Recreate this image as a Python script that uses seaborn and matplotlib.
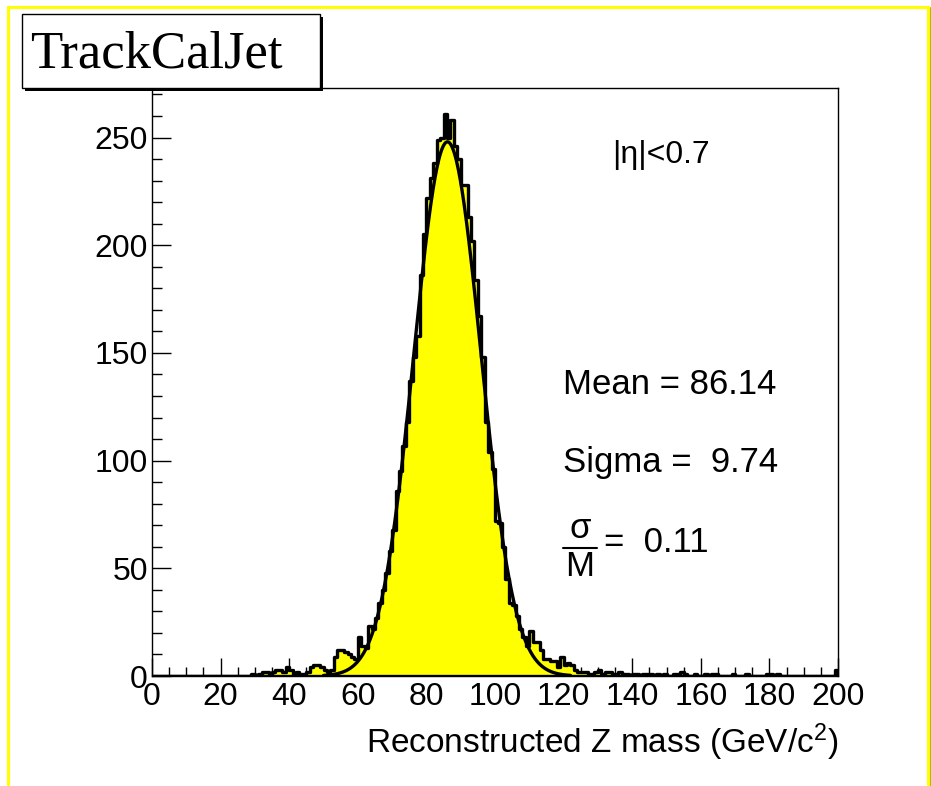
import numpy as np
import pandas as pd
import matplotlib.pyplot as plt
import seaborn as sns
from matplotlib.patches import Rectangle
from matplotlib.lines import Line2D
from matplotlib.ticker import MultipleLocator

# histogram contents, 1 GeV bins from 0 to 200 GeV
counts_0_27 = [0] * 28
counts_28_59 = [0, 1, 0, 1, 2, 2, 1, 2, 3, 3,
                2, 4, 3, 1, 2, 1, 1, 2, 4, 5,
                5, 4, 3, 2, 3, 9, 12, 12, 11, 10,
                9, 8]
counts_60_99 = [18, 14, 13, 23, 22, 27, 34, 40, 48, 58,
                68, 86, 95, 107, 118, 137, 148, 158, 186, 205,
                222, 231, 238, 249, 250, 261, 250, 258, 246, 240,
                228, 228, 213, 202, 184, 167, 148, 118, 104, 96]
counts_100_139 = [72, 71, 60, 45, 34, 33, 28, 22, 18, 14,
                  21, 16, 16, 12, 8, 8, 7, 7, 4, 9,
                  5, 6, 5, 3, 2, 2, 2, 1, 1, 2,
                  3, 1, 2, 2, 1, 1, 2, 1, 1, 0]
counts_140_199 = [1, 1, 0, 1, 1, 1, 0, 1, 0, 1,
                  0, 0, 1, 1, 2, 1, 0, 0, 1, 0,
                  0, 1, 0, 1, 1, 0, 0, 0, 0, 1,
                  0, 0, 0, 1, 0, 0, 0, 0, 0, 1,
                  1, 0, 1, 0, 0, 0, 0, 0, 0, 0,
                  0, 0, 0, 0, 0, 0, 0, 0, 0, 3]
counts = counts_0_27 + counts_28_59 + counts_60_99 + counts_100_139 + counts_140_199

# gaussian fit result
fit_amp = 248
fit_mean = 86.14
fit_sigma = 9.74
fit_lo, fit_hi = 50, 122

W, H = 931, 786


def fx(px):
    return px / W


def fy(py):
    return 1 - py / H


sns.set_theme(style="white")
plt.rcParams['font.family'] = ['Liberation Sans', 'DejaVu Sans']
plt.rcParams['mathtext.fontset'] = 'custom'
plt.rcParams['mathtext.rm'] = 'Liberation Sans'
plt.rcParams['mathtext.it'] = 'Liberation Sans'
plt.rcParams['text.color'] = 'black'
plt.rcParams['axes.labelcolor'] = 'black'
plt.rcParams['xtick.color'] = 'black'
plt.rcParams['ytick.color'] = 'black'

centers = np.arange(200) + 0.5
df = pd.DataFrame({'mass': centers, 'n': counts})

fig = plt.figure(figsize=(W / 100, H / 100), dpi=100)
ax = fig.add_axes([fx(152), 1 - 676 / H, (838 - 152) / W, (676 - 88) / H])

sns.histplot(data=df, x='mass', weights='n', binwidth=1, binrange=(0, 200), element='step', fill=True,
             facecolor='#ffff00', edgecolor='black', linewidth=2.4, alpha=1, ax=ax)

xf = np.linspace(fit_lo, fit_hi, 400)
yf = fit_amp * np.exp(-0.5 * ((xf - fit_mean) / fit_sigma) ** 2)
ax.plot(xf, yf, color='black', lw=2.4)

ax.set_xlim(0, 200)
ax.set_ylim(0, 273)
ax.set_ylabel('')
ax.set_xlabel('Reconstructed Z mass (GeV/c$^{2}$)', loc='right', fontsize=24, labelpad=7, color='black')

ax.xaxis.set_major_locator(MultipleLocator(20))
ax.xaxis.set_minor_locator(MultipleLocator(5))
ax.yaxis.set_major_locator(MultipleLocator(50))
ax.yaxis.set_minor_locator(MultipleLocator(10))
ax.tick_params(axis='x', which='major', direction='in', length=13, width=1, labelsize=23, pad=4,
               colors='black')
ax.tick_params(axis='x', which='minor', direction='in', length=6.5, width=1, colors='black')
ax.tick_params(axis='y', which='major', direction='in', length=14, width=1, labelsize=23, pad=3,
               colors='black')
ax.tick_params(axis='y', which='minor', direction='in', length=7, width=1, colors='black')
ax.tick_params(which='both', bottom=True, left=True, top=False, right=False)
for s in ax.spines.values():
    s.set_color('black')
    s.set_linewidth(1)

# texts inside the frame
fig.text(fx(612), fy(155), '|η|<0.7', fontsize=23, va='center', ha='left', color='black')
fig.text(fx(563), fy(385), 'Mean = 86.14', fontsize=25, va='center', ha='left', color='black')
fig.text(fx(563), fy(463), 'Sigma =  9.74', fontsize=25, va='center', ha='left', color='black')
fig.text(fx(580), fy(529), 'σ', fontsize=25, va='center', ha='center', color='black')
fig.add_artist(Line2D([fx(563), fx(597)], [fy(548), fy(548)], color='black', lw=1.5))
fig.text(fx(580), fy(567), 'M', fontsize=25, va='center', ha='center', color='black')
fig.text(fx(604), fy(543), '=  0.11', fontsize=25, va='center', ha='left', color='black')

# title box with shadow
fig.add_artist(Rectangle((fx(25), fy(91)), 298 / W, 74 / H, facecolor='black', edgecolor='black', lw=0, zorder=5))
fig.add_artist(Rectangle((fx(22), fy(88)), 298 / W, 74 / H, facecolor='white', edgecolor='black', lw=1, zorder=6))
fig.text(fx(30), fy(67), 'TrackCalJet', fontsize=38, family='Liberation Serif', va='baseline', ha='left',
         color='black', zorder=7)

# yellow canvas border
fig.add_artist(Rectangle((fx(8), -0.05), (928 - 8) / W, fy(7) + 0.05, fill=False, edgecolor='#ffff00', lw=2.2))
fig.add_artist(Line2D([fx(930.5), fx(930.5)], [0, fy(8)], color='#b8b800', lw=1.5))

fig.savefig('out.png', dpi=100)
